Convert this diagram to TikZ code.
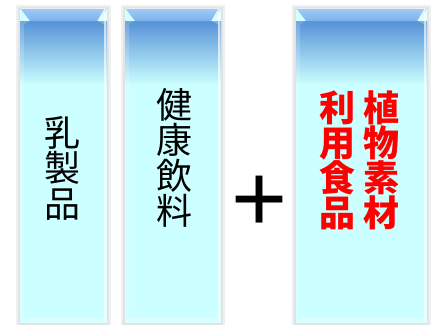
\documentclass[tikz,border=0pt]{standalone}
\usepackage{fontspec}
\newfontfamily\cjk{Noto Sans CJK JP}
\newfontfamily\plusfont{Liberation Sans}
\definecolor{boxblue}{RGB}{86,146,216}
\definecolor{bevelblue}{RGB}{122,180,238}
\definecolor{cyanlight}{RGB}{204,255,255}
\definecolor{cjkred}{RGB}{255,0,0}
\newcommand{\gbox}[2]{%
  \fill[gray!12] (#1-4,5) rectangle (#2+4,325);
  \fill[gray!22] (#1-2,6.5) rectangle (#2+2,325);
  \fill[cyanlight] (#1,8) rectangle (#2,323);
  \shade[top color=boxblue, bottom color=cyanlight] (#1,21) rectangle (#2,85);
  \shade[top color=bevelblue!70!white, bottom color=bevelblue] (#1,8) -- (#2,8) -- (#2-9,21) -- (#1+10,21) -- cycle;
  \fill[white,opacity=0.18] (#1,8) -- (#1+10,21) -- (#1+4,24) -- (#1+4,318) -- (#1,323) -- cycle;
  \fill[white,opacity=0.3] (#2,8) -- (#2-9,21) -- (#2-3,24) -- (#2-3,319) -- (#2,323) -- cycle;
  \draw[white,opacity=0.85,line width=1.2] (#2-9,21) -- (#2-2,9) (#2-2,12) -- (#2-2,320);
  \fill[white,opacity=0.3] (#1,323) -- (#1+4,318) -- (#2-3,318) -- (#2,323) -- cycle;
  \draw[white,opacity=0.7,line width=0.8] (#1+1,8.5) -- (#2-1,8.5);
}
\tikzset{
  vtext/.style={align=center, inner sep=0pt, font=\cjk\fontsize{36}{35.5}\selectfont},
  rtext/.style={vtext, text=cjkred, font=\cjk\bfseries\fontsize{36}{35}\selectfont},
}
\begin{document}
\begin{tikzpicture}[x=1pt,y=-1pt]
\useasboundingbox (0,0) rectangle (433,325);
\fill[white] (0,0) rectangle (433,325);
\gbox{20}{107}
\gbox{125}{221}
\gbox{296}{427}
\node[vtext] (milk) at (62.5,168) {乳\\製\\品};
\node[vtext] (drink) at (174,158) {健\\康\\飲\\料};
\node[rtext] (use) at (337.5,160) {利\\用\\食\\品};
\node[rtext] (plant) at (381,160) {植\\物\\素\\材};
\node[inner sep=0pt, font=\plusfont\fontsize{96}{96}\selectfont] (plus) at (260,204) {+};
\end{tikzpicture}
\end{document}
